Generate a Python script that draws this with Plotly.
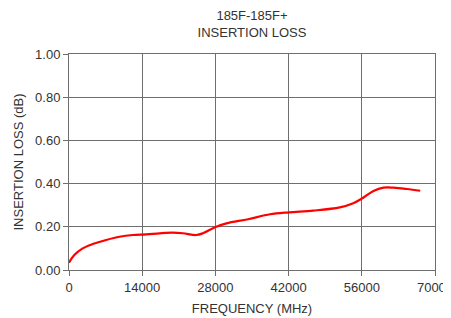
import plotly.graph_objects as go

freq_mhz = [0, 1016, 2610, 4530, 7100, 9650, 12200, 14770, 17330, 19870, 21790,
            24350, 25620, 27920, 30110, 34250, 38440, 42080, 46720, 51800, 54370,
            56110, 58230, 60150, 62060, 64630, 67180]
loss_db = [0.034, 0.069, 0.100, 0.120, 0.139, 0.154, 0.162, 0.165, 0.170, 0.173, 0.170,
           0.162, 0.170, 0.198, 0.216, 0.235, 0.258, 0.267, 0.275, 0.290, 0.309,
           0.332, 0.366, 0.381, 0.381, 0.375, 0.367]
x_ticks = [0, 14000, 28000, 42000, 56000, 70000]
y_ticks = [0.0, 0.2, 0.4, 0.6, 0.8, 1.0]

font = "Liberation Sans, Arial, sans-serif"
grid = "#6e6e6e"
txt = "#333333"

fig = go.Figure()
fig.add_trace(go.Scatter(x=freq_mhz, y=loss_db, mode="lines",
                         line=dict(color="#ff0000", width=2.2, shape="spline", smoothing=1.0),
                         showlegend=False))

# page has an 8px body margin, so the figure is sized/positioned to compensate
fig.update_layout(
    width=443, height=310,
    margin=dict(l=61, r=16, t=46, b=48, autoexpand=False),
    paper_bgcolor="white", plot_bgcolor="white",
    font=dict(family=font, size=13, color=txt),
    title=dict(text="185F-185F+<br>INSERTION LOSS", x=0.5, xref="paper", xanchor="center",
               y=0.962, yanchor="top", yref="container",
               font=dict(family=font, size=13, color=txt), automargin=False),
)
fig.update_xaxes(range=[0, 70000], tickvals=x_ticks, ticktext=[str(v) for v in x_ticks],
                 showgrid=True, gridcolor=grid, gridwidth=1,
                 showline=True, linecolor=grid, linewidth=1, mirror=True,
                 ticks="outside", ticklen=5, tickcolor=grid,
                 zeroline=False, automargin=False, ticklabeloverflow="allow",
                 tickfont=dict(size=13, color=txt),
                 title=dict(text="FREQUENCY (MHz)", standoff=10, font=dict(size=13, color=txt)))
fig.update_yaxes(range=[0, 1.0], tickvals=y_ticks, ticktext=[f"{v:.2f}" for v in y_ticks],
                 showgrid=True, gridcolor=grid, gridwidth=1,
                 showline=True, linecolor=grid, linewidth=1, mirror=True,
                 ticks="outside", ticklen=5, tickcolor=grid,
                 zeroline=False, automargin=False, ticklabeloverflow="allow",
                 tickfont=dict(size=13, color=txt),
                 title=dict(text="INSERTION LOSS (dB)", standoff=8, font=dict(size=13, color=txt)))

fig.write_html("out.html")
